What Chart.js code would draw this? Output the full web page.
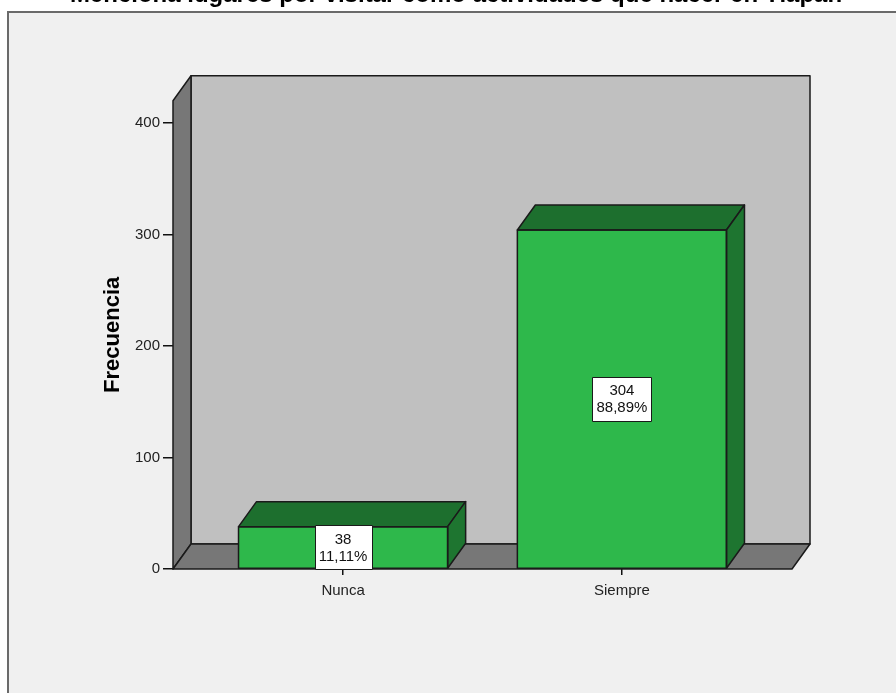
<!DOCTYPE html>
<html>
<head>
<meta charset="utf-8">
<script src="https://cdn.jsdelivr.net/npm/chart.js@4"></script>
<style>
  html, body { margin: 0; padding: 0; background: #fff; overflow: hidden; }
  #wrap { position: absolute; left: 0; top: -13px; width: 896px; height: 706px; }
</style>
</head>
<body>
<div id="wrap"><canvas id="chart"></canvas></div>
<script>
const titleText = 'Menciona lugares por visitar como actividades que hacer en Tlapan';
const categories = ['Nunca', 'Siempre'];
const counts = [38, 304];
const percents = ['11,11%', '88,89%'];
const yTicks = [0, 100, 200, 300, 400];

// depth of the 3D effect
const DX = 18, DY = -25;
const FONT = "'Liberation Sans', Arial, sans-serif";

const framePlugin = {
  id: 'frame',
  beforeDraw(chart) {
    const ctx = chart.ctx;
    ctx.save();
    ctx.fillStyle = '#ffffff';
    ctx.fillRect(0, 0, chart.width, chart.height);
    ctx.fillStyle = '#f0f0f0';
    ctx.fillRect(8, 25, chart.width, chart.height);
    ctx.strokeStyle = '#6a6a6a';
    ctx.lineWidth = 2;
    ctx.beginPath();
    ctx.moveTo(8, chart.height + 5);
    ctx.lineTo(8, 25);
    ctx.lineTo(chart.width + 5, 25);
    ctx.stroke();
    ctx.restore();
  }
};

function poly(ctx, pts, fill) {
  ctx.beginPath();
  ctx.moveTo(pts[0][0], pts[0][1]);
  for (let i = 1; i < pts.length; i++) ctx.lineTo(pts[i][0], pts[i][1]);
  ctx.closePath();
  ctx.fillStyle = fill;
  ctx.fill();
  ctx.stroke();
}

const wallsPlugin = {
  id: 'walls',
  beforeDatasetsDraw(chart) {
    const ctx = chart.ctx;
    const a = chart.chartArea;
    const y0 = chart.scales.y.getPixelForValue(0);
    ctx.save();
    ctx.strokeStyle = '#1a1a1a';
    ctx.lineWidth = 1.5;
    ctx.lineJoin = 'round';
    // back wall
    poly(ctx, [[a.left + DX, a.top + DY], [a.right + DX, a.top + DY], [a.right + DX, y0 + DY], [a.left + DX, y0 + DY]], '#c0c0c0');
    // left wall
    poly(ctx, [[a.left, a.top], [a.left + DX, a.top + DY], [a.left + DX, y0 + DY], [a.left, y0]], '#777777');
    // floor
    poly(ctx, [[a.left, y0], [a.left + DX, y0 + DY], [a.right + DX, y0 + DY], [a.right, y0]], '#777777');
    ctx.restore();
  },
  afterDatasetsDraw(chart) {
    const ctx = chart.ctx;
    const meta = chart.getDatasetMeta(0);
    ctx.save();
    ctx.strokeStyle = '#1a1a1a';
    ctx.lineWidth = 1.5;
    ctx.lineJoin = 'round';
    meta.data.forEach(function(bar, i) {
      const p = bar.getProps(['x', 'y', 'base', 'width'], true);
      const l = p.x - p.width / 2, r = p.x + p.width / 2;
      // top face
      poly(ctx, [[l, p.y], [l + DX, p.y + DY], [r + DX, p.y + DY], [r, p.y]], '#1d6f2e');
      // side face
      poly(ctx, [[r, p.y], [r + DX, p.y + DY], [r + DX, p.base + DY], [r, p.base]], '#1e7530');
      // front outline
      ctx.strokeRect(l, p.y, p.width, p.base - p.y);

      // value label
      ctx.font = '15px ' + FONT;
      const lines = [String(counts[i]), percents[i]];
      const w = Math.round(Math.max(...lines.map(t => ctx.measureText(t).width)) + 8);
      const h = 44;
      const cy = (p.y + p.base) / 2;
      const bx = Math.round(p.x - w / 2) + 0.5, by = Math.round(cy - h / 2) + 0.5;
      ctx.fillStyle = '#ffffff';
      ctx.lineWidth = 1;
      ctx.fillRect(bx, by, w, h);
      ctx.strokeRect(bx, by, w, h);
      ctx.fillStyle = '#111';
      ctx.textAlign = 'center';
      ctx.textBaseline = 'middle';
      ctx.fillText(lines[0], p.x, cy - 8);
      ctx.fillText(lines[1], p.x, cy + 9);
      ctx.lineWidth = 1.5;
    });
    ctx.restore();
  }
};

new Chart(document.getElementById('chart'), {
  type: 'bar',
  data: {
    datasets: [{
      data: counts.map((v, i) => ({ x: i, y: v })),
      backgroundColor: '#2eb84b',
      borderWidth: 0,
      barPercentage: 0.75,
      categoryPercentage: 1
    }]
  },
  options: {
    responsive: true,
    maintainAspectRatio: false,
    animation: false,
    layout: { padding: { top: 0, left: 16, right: 0, bottom: 84 } },
    plugins: {
      legend: { display: false },
      tooltip: { enabled: false },
      title: {
        display: true,
        text: titleText,
        color: '#000',
        font: { family: FONT, size: 24, weight: 'bold', lineHeight: 1.2 },
        padding: { top: -6, bottom: 90.9 }
      }
    },
    scales: {
      x: {
        type: 'linear',
        offset: false,
        min: -0.61,
        max: 1.61,
        afterBuildTicks(scale) {
          scale.ticks = categories.map((c, i) => ({ value: i }));
        },
        afterFit(scale) { scale.height = 40; },
        ticks: {
          color: '#222',
          padding: 7,
          font: { family: FONT, size: 15 },
          callback: v => categories[v]
        },
        grid: { display: true, offset: false, drawOnChartArea: false, drawTicks: true, tickLength: 6, color: '#111', lineWidth: 1.5 },
        border: { display: false }
      },
      y: {
        min: 0,
        max: 420,
        afterBuildTicks(scale) {
          scale.ticks = yTicks.map(v => ({ value: v }));
        },
        afterFit(scale) { scale.width = 157; },
        ticks: {
          color: '#222',
          padding: 3,
          font: { family: FONT, size: 15 }
        },
        grid: { display: true, drawOnChartArea: false, drawTicks: true, tickLength: 10, color: '#111', lineWidth: 1.5 },
        border: { display: false },
        title: {
          display: true,
          text: 'Frecuencia',
          color: '#000',
          font: { family: FONT, size: 22, weight: 'bold' },
          padding: { top: 84, bottom: 0 }
        }
      },
      // empty right-hand axis only reserves the space right of the plot
      yRight: {
        position: 'right',
        display: true,
        ticks: { display: false },
        grid: { display: false },
        border: { display: false },
        afterFit(scale) { scale.width = 104; }
      }
    }
  },
  plugins: [framePlugin, wallsPlugin]
});
</script>
</body>
</html>
